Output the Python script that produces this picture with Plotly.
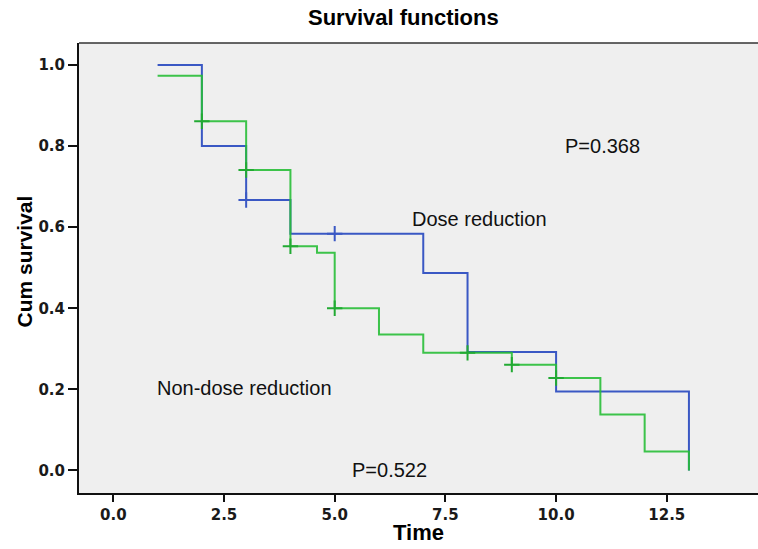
import plotly.graph_objects as go

# Dose reduction group (blue)
dose_time = [1, 2, 3, 4, 7, 8, 10, 13]
dose_surv = [1.0, 0.80, 0.667, 0.584, 0.487, 0.292, 0.195, 0.0]
dose_cens_time = [3, 5]
dose_cens_surv = [0.667, 0.584]

# Non-dose reduction group (green)
nondose_time = [1, 2, 3, 4, 4.6, 5, 6, 7, 9, 10, 11, 12, 13]
nondose_surv = [0.973, 0.861, 0.741, 0.553, 0.537, 0.40, 0.335, 0.29, 0.261, 0.228, 0.138, 0.047, 0.0]
nondose_cens_time = [2, 3, 4, 5, 8, 9, 10]
nondose_cens_surv = [0.861, 0.741, 0.553, 0.40, 0.29, 0.261, 0.228]

x_ticks = [0.0, 2.5, 5.0, 7.5, 10.0, 12.5]
y_ticks = [0.0, 0.2, 0.4, 0.6, 0.8, 1.0]

BLUE = "#3a58c4"
GREEN = "rgba(40,190,55,0.9)"

fig = go.Figure()
fig.add_trace(go.Scatter(x=dose_time, y=dose_surv, mode="lines", line=dict(color=BLUE, width=2, shape="hv"),
                         showlegend=False, hoverinfo="skip"))
fig.add_trace(go.Scatter(x=dose_cens_time, y=dose_cens_surv, mode="markers",
                         marker=dict(symbol="cross-thin", size=11, line=dict(color=BLUE, width=2)),
                         showlegend=False, hoverinfo="skip"))
fig.add_trace(go.Scatter(x=nondose_time, y=nondose_surv, mode="lines", line=dict(color=GREEN, width=2, shape="hv"),
                         showlegend=False, hoverinfo="skip"))
fig.add_trace(go.Scatter(x=nondose_cens_time, y=nondose_cens_surv, mode="markers",
                         marker=dict(symbol="cross-thin", size=11, line=dict(color="#22aa33", width=2)),
                         showlegend=False, hoverinfo="skip"))

tickfont = dict(family="DejaVu Sans", size=15, color="#1a1a1a", weight="bold")
fig.update_layout(
    width=758, height=549,
    margin=dict(l=79, r=0, t=43, b=56),
    paper_bgcolor="white", plot_bgcolor="#efefef",
    xaxis=dict(range=[-0.775, 14.56], tickvals=x_ticks, ticktext=[f"{v:.1f}" for v in x_ticks],
               showgrid=False, zeroline=False, showline=True, linecolor="#111", linewidth=2,
               ticks="outside", ticklen=7, tickwidth=2, tickcolor="#111", tickfont=tickfont),
    yaxis=dict(range=[-0.0555, 1.054], tickvals=y_ticks, ticktext=[f"{v:.1f}" for v in y_ticks],
               showgrid=False, zeroline=False, showline=True, linecolor="#111", linewidth=2,
               ticks="outside", ticklen=9, tickwidth=2, tickcolor="#111", tickfont=tickfont),
    shapes=[dict(type="line", xref="paper", yref="paper", x0=0, x1=1, y0=1, y1=1,
                 line=dict(color="#333", width=1.5))],
)

ann_font = dict(family="Liberation Sans, Arial", size=20, color="#111")
title_font = dict(family="Liberation Sans, Arial", size=22, color="#000", weight="bold")

def px_ann(text, x, y, font, angle=0):
    fig.add_annotation(text=text, xref="paper", yref="paper",
                       x=(x - 79) / (758 - 79), y=(493 - y) / (493 - 43),
                       xanchor="center", yanchor="middle", showarrow=False, font=font, textangle=angle)

px_ann("Survival functions", 403, 18, title_font)
px_ann("Time", 418, 532, title_font)
px_ann("Cum survival", 23.5, 262, dict(title_font, size=21), angle=-90)
px_ann("P=0.368", 602, 146, ann_font)
px_ann("Dose reduction", 479, 219, ann_font)
px_ann("Non-dose reduction", 244.5, 388, ann_font)
px_ann("P=0.522", 389, 469.5, ann_font)

fig.write_html("out.html")
